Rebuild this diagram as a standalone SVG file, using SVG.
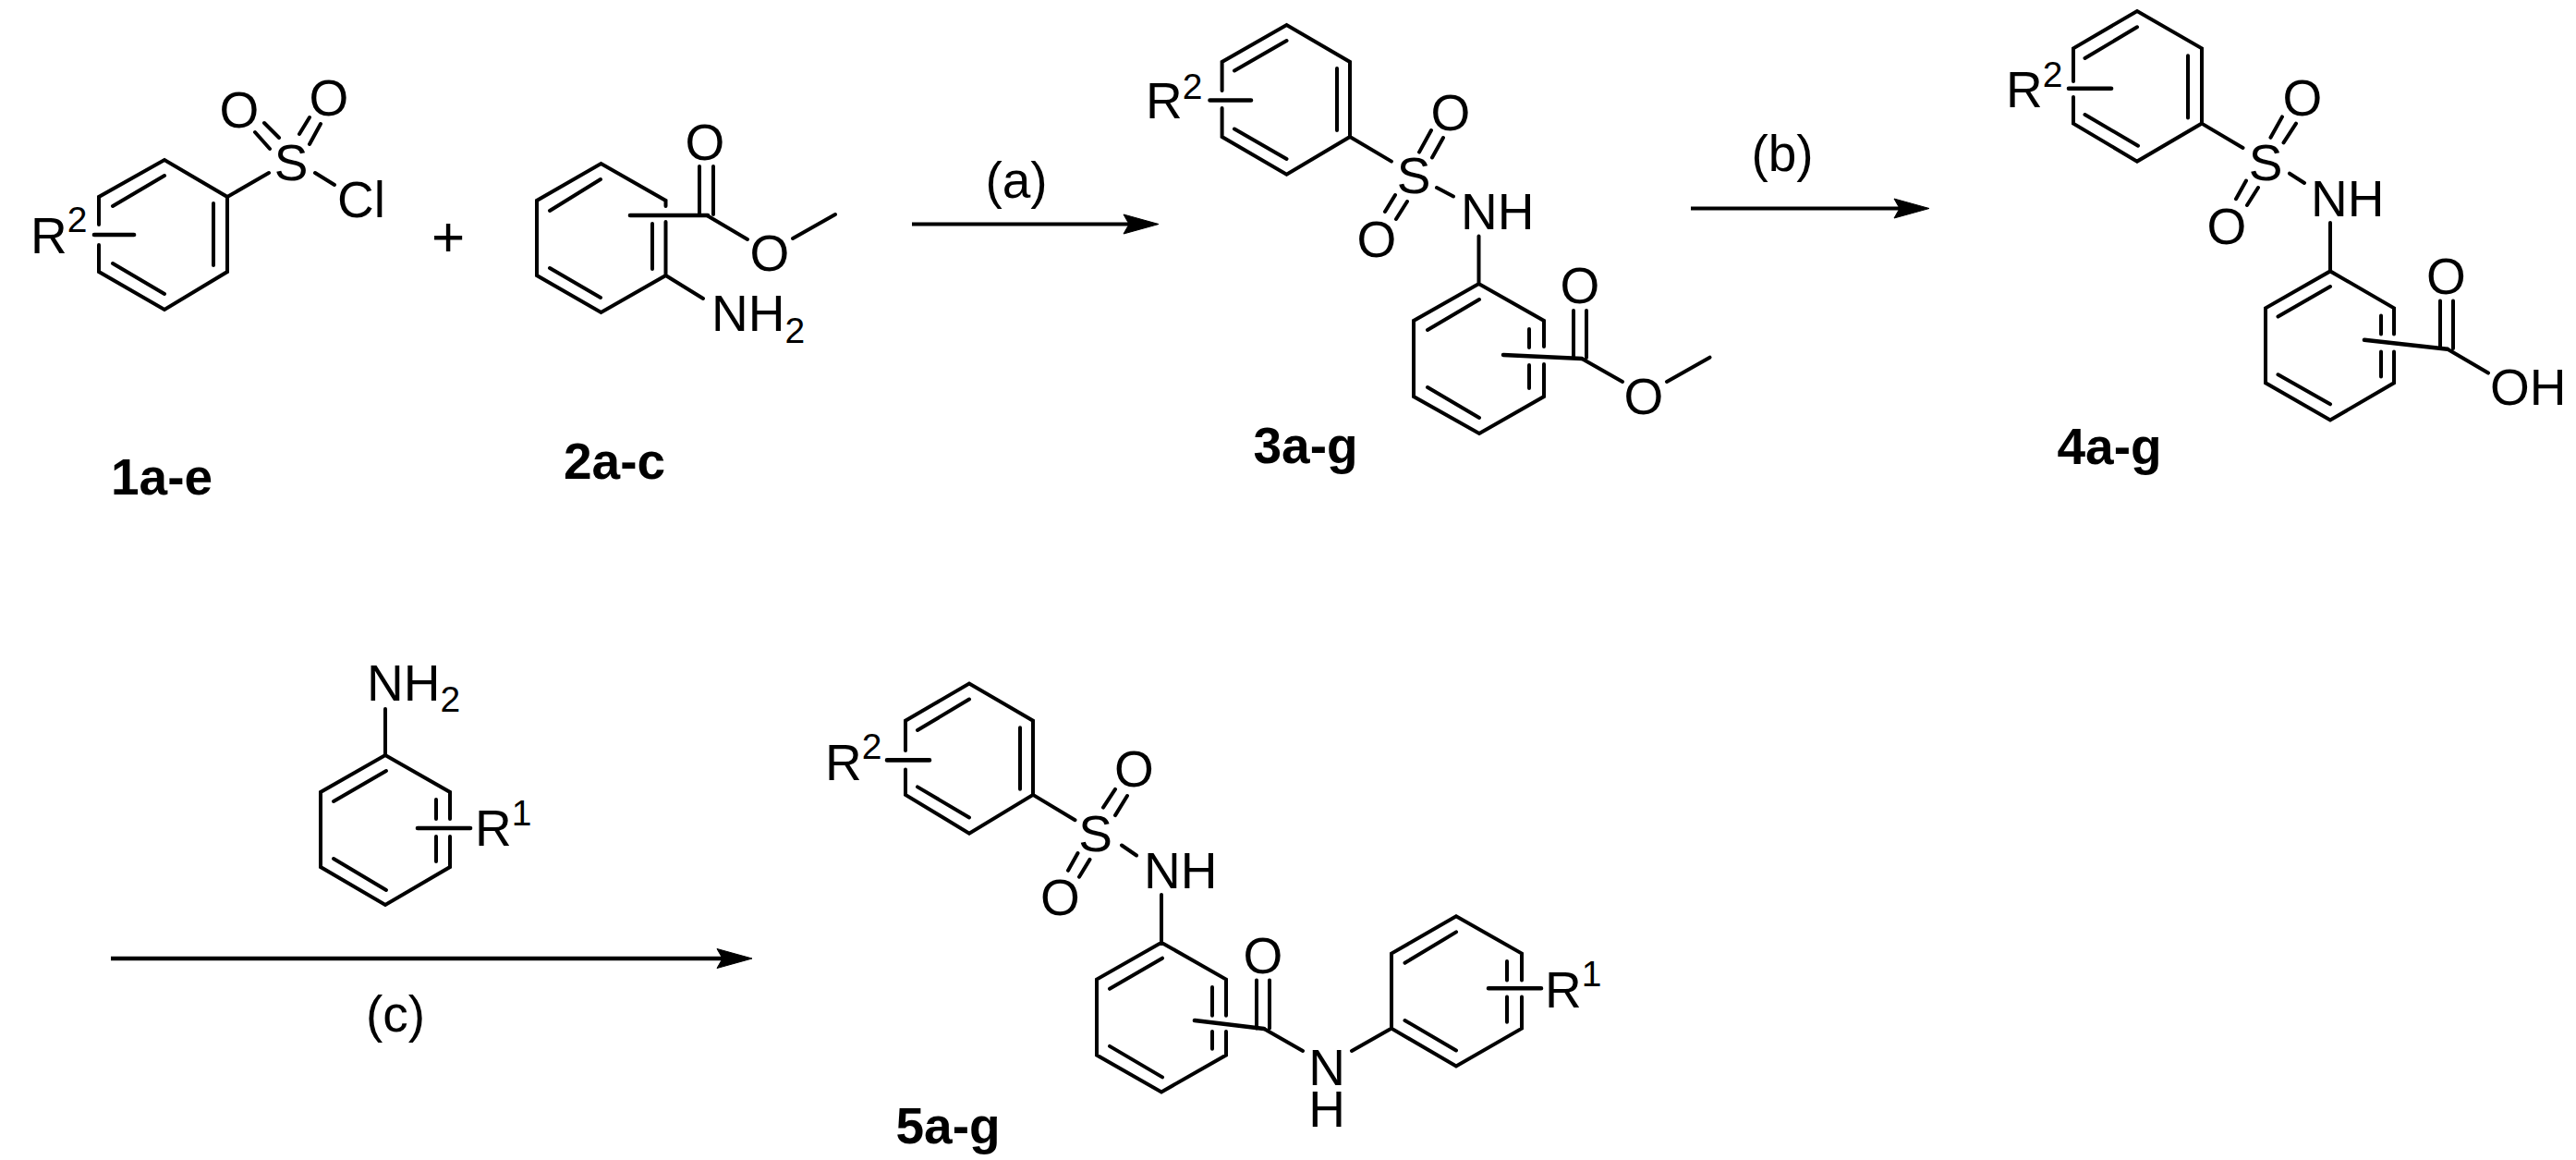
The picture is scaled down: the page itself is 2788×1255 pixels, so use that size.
<svg xmlns="http://www.w3.org/2000/svg" width="2788" height="1255" viewBox="0 0 2788 1255">
<style>
text{font-family:"Liberation Sans",Arial,sans-serif;font-size:55px;fill:#000}
.m{text-anchor:middle}
.l{font-weight:bold;text-anchor:middle}
.b{fill:none;stroke:#000;stroke-width:4;stroke-linejoin:miter;stroke-linecap:round}
.s{fill:none;stroke:#000;stroke-width:4.6;stroke-linecap:round}
.a{fill:none;stroke:#000;stroke-width:4}
.c{stroke-width:4.7}
.u{font-size:39px}
</style>
<defs>
<marker id="h" markerUnits="userSpaceOnUse" markerWidth="44" markerHeight="28" refX="6" refY="12" orient="auto" overflow="visible">
<path d="M0 1.5 L38 12 L0 22.5 L6 12 Z" fill="#000" stroke="#000" stroke-width="1" stroke-linejoin="round"/>
</marker>
</defs>
<rect width="2788" height="1255" fill="#fff"/>
<g id="connectors">
<line class="a" x1="987" y1="242.5" x2="1222" y2="242.5" marker-end="url(#h)"/>
<line class="a" x1="1830" y1="225.5" x2="2056" y2="225.5" marker-end="url(#h)"/>
<line class="a c" x1="120" y1="1037" x2="782" y2="1037" marker-end="url(#h)"/>
<text class="m" x="1100" y="214">(a)</text>
<text class="m" x="1929" y="185">(b)</text>
<text class="m" x="428" y="1116">(c)</text>
</g>
<g id="compound-1">
<path class="b" d="M107 243V213L178 173L246 213V294L178 335L107 294V265M122 223L178 190M231 220V287M122 285L178 318M246 213L291 187M276 143L292 161M286 133L302 149M324 145L335 127M335 156L347 134M341 187L362 200"/>
<path class="s" d="M102 254H145"/>
<text x="33" y="274">R<tspan class="u" dy="-23">2</tspan></text>
<text class="m" x="315" y="195">S</text>
<text class="m" x="259" y="138">O</text>
<text class="m" x="356" y="125">O</text>
<text x="365" y="235">Cl</text>
<text class="l" x="175" y="535">1a-e</text>
</g>
<text id="plus" class="m" x="485" y="277" style="font-size:62px">+</text>
<g id="compound-2">
<path class="b" d="M720.5 223V217L650.5 177L581 217V298L650.5 338L720.5 298V240M595 228L650 194M706 242V291M595 290L650 322M757 180V232M772 180V232M765 233L809 259M858 258L904 232M720.5 298L761 323"/>
<path class="s" d="M682 233H766"/>
<text class="m" x="833" y="293">O</text>
<text class="m" x="763" y="173">O</text>
<text x="770" y="358">NH<tspan class="u" dy="13">2</tspan></text>
<text class="l" x="665" y="518">2a-c</text>
</g>
<g id="compound-3">
<path class="b" d="M1322.6 98V67L1392.5 27L1461 67V148L1392.5 188.7L1322.6 148V117M1336 76.4L1392.5 44M1447 74V141M1336 139.5L1392.5 172M1461 148L1506 174.6M1536 164.6L1549 141M1550 170.5L1562 149M1499 229L1510 211M1511 237L1523 218M1555 203L1573 212.5M1600.5 255.5V307M1671 375V347L1600.5 307L1530 347V429L1601 469L1671 429V394M1655 356V376M1655 395V420M1545 357L1601 324M1545 419L1601 452M1703 336V387M1717 336V387M1712 388L1756 413M1804 413L1850.5 386.7"/>
<path class="s" d="M1309.5 108.5H1354M1627 384L1712 388"/>
<text x="1240" y="128.4">R<tspan class="u" dy="-21">2</tspan></text>
<text class="m" x="1530" y="209.4">S</text>
<text class="m" x="1570" y="140.5">O</text>
<text class="m" x="1490" y="278">O</text>
<text x="1581" y="248.4">NH</text>
<text class="m" x="1710" y="328">O</text>
<text class="m" x="1779" y="448">O</text>
<text class="l" x="1413" y="501">3a-g</text>
</g>
<g id="compound-4">
<path class="b" d="M2244 88V52.3L2313 12L2383 52.3V133.6L2313 174.6L2244 133.6V105M2256.5 63L2313 29.3M2368 60.3V127.4M2256.5 124L2314 157.7M2383 133.6L2427.5 160M2457.5 148.8L2470 126.4M2471.5 154.3L2485 133.6M2420 215.2L2431 195.6M2432 222L2444 203M2478 187.7L2494 198M2522 241V293.4M2591 361.6V333.3L2522 293.4L2452 333.3V414.3L2522 454.5L2591 414.3V380.5M2577 341.6V361.6M2577 380.5V407.4M2465.5 342.6L2522 310M2465.5 405.3L2522 437.3M2641 325.4V377M2655 325.4V377M2649 377.8L2693 403.6"/>
<path class="s" d="M2239 95.7H2285M2559 367.8L2649 377.8"/>
<text x="2171" y="116.4">R<tspan class="u" dy="-22">2</tspan></text>
<text class="m" x="2452" y="194.6">S</text>
<text class="m" x="2492" y="124.7">O</text>
<text class="m" x="2410" y="264">O</text>
<text x="2501" y="233.5">NH</text>
<text class="m" x="2647.5" y="317.5">O</text>
<text x="2695" y="438">OH</text>
<text class="l" x="2283" y="502">4a-g</text>
</g>
<g id="aniline">
<path class="b" d="M417 767V817M487 886V857L417 817L347 857V938L417 979L487 938V905M472 865V886M472 905V932M361 867L418 834M361 929L418 963"/>
<path class="s" d="M452 896H509"/>
<text x="397" y="758">NH<tspan class="u" dy="12">2</tspan></text>
<text x="514" y="915">R<tspan class="u" dy="-22">1</tspan></text>
</g>
<g id="compound-5">
<path class="b" d="M980 812V779.7L1049 739.5L1118 779.7V859.9L1049 901.6L980 859.9V832.6M993 790L1049 756.5M1104 787.2V853.8M993 851.4L1049 884.5M1118 859.9L1163.5 887.2M1194 873.6L1207 853.8M1207 882.1L1220 861M1156 941.8L1166.5 923.1M1168 948.7L1179.5 929.9M1214 914.5L1230 925.5M1257 968V1019.7M1327 1098.8V1059.6L1257 1019.7L1187 1059.6V1141.5L1257 1181.4L1327 1141.5V1115.9M1312 1068V1098.8M1312 1115.9V1134.7M1201 1069.8L1258 1036.7M1201 1131.9L1258 1165.4M1360 1060.6V1112.5M1374 1060.6V1112.5M1368 1113L1410 1137M1463 1137L1505.7 1112.7M1647 1060.6V1031.6L1576 991.3L1506 1031.6V1112.7L1576 1153.4L1647 1112.7V1078.4M1631 1040V1060.6M1631 1078.4V1105.7M1520.5 1041.8L1576 1008.4M1520.5 1104L1576 1136.4"/>
<path class="s" d="M960 822.4H1006M1293 1104L1368 1113M1611 1069.2H1668"/>
<text x="893" y="843.5">R<tspan class="u" dy="-23">2</tspan></text>
<text class="m" x="1185.5" y="921.4">S</text>
<text class="m" x="1227.5" y="851.4">O</text>
<text class="m" x="1147.5" y="990.3">O</text>
<text x="1238" y="960.6">NH</text>
<text class="m" x="1367" y="1052.8">O</text>
<text class="m" y="1173.6"><tspan x="1436">N</tspan><tspan x="1436" dy="45.7">H</tspan></text>
<text x="1672" y="1090.3">R<tspan class="u" dy="-23">1</tspan></text>
<text class="l" x="1026" y="1237">5a-g</text>
</g>
</svg>
